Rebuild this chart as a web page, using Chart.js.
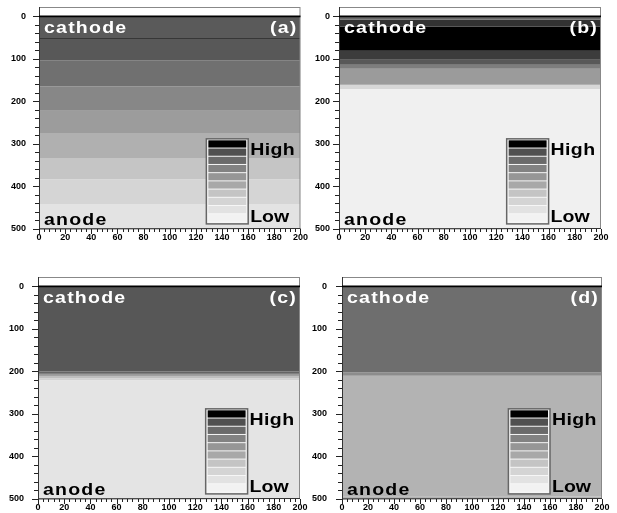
<!DOCTYPE html>
<html>
<head>
<meta charset="utf-8">
<script src="https://cdn.jsdelivr.net/npm/chart.js@4.4.0/dist/chart.umd.min.js"></script>
<style>
  html, body { margin: 0; padding: 0; background: #fff; }
  #wrap { position: relative; width: 617px; height: 513px; }
  .pane { position: absolute; }
</style>
</head>
<body>
<div id="wrap">
  <div class="pane" style="left:0;top:0;width:308px;height:256px"><canvas id="pa"></canvas></div>
  <div class="pane" style="left:308px;top:0;width:309px;height:256px"><canvas id="pb"></canvas></div>
  <div class="pane" style="left:0;top:256px;width:308px;height:257px"><canvas id="pc"></canvas></div>
  <div class="pane" style="left:308px;top:256px;width:309px;height:257px"><canvas id="pd"></canvas></div>
</div>
<script>
// DONNÉES : profondeurs des bandes (bords) et niveau de gris de chaque bande
const depthA = [0, 51, 53, 103, 165, 222, 274, 333, 383, 441, 500];
const shadeA = [90, 55, 88, 112, 135, 156, 176, 197, 213, 227];

const depthB = [0, 8, 24, 81, 102, 114, 123, 161, 171, 500];
const shadeB = [105, 50, 0, 60, 88, 125, 155, 215, 240];

const depthC = [0, 200, 204, 208, 212, 216, 221, 500];
const shadeC = [87, 100, 128, 160, 190, 210, 228];

const depthD = [0, 202, 210, 494, 500];
const shadeD = [110, 140, 179, 179];
// bande claire en bas de (d), seulement de x=0 à x=160
const stripD = { x: [0, 160], y: [494, 500], shade: 205 };

// échelle High -> Low
const legendShades = [0, 80, 106, 130, 150, 168, 196, 212, 226, 242];
const legendX = [128, 160];
const legendY = [288, 488];

// graduations
const xTickValues = [0, 20, 40, 60, 80, 100, 120, 140, 160, 180, 200];
const yTickValues = [0, 100, 200, 300, 400, 500];
const xRange = [0, 200];
const yRange = [-22, 500];   // axe y inversé, un peu de marge au-dessus de 0
const panelTags = ["(a)", "(b)", "(c)", "(d)"];

const gris = (g) => `rgb(${g},${g},${g})`;
const tickFont = { family: "'Liberation Sans', Arial, sans-serif", size: 9, weight: "bold" };

// une bande = segment horizontal rempli jusqu'à la profondeur suivante
function bandes(depth, shade) {
  return shade.map((g, i) => ({
    data: [{ x: xRange[0], y: depth[i] }, { x: xRange[1], y: depth[i] }],
    fill: { value: depth[i + 1] },
    backgroundColor: gris(g),
    borderWidth: 0,
    pointRadius: 0,
  }));
}

// texte un peu étiré comme l'original
function texte(ctx, str, x, y, color, align, size, spacing) {
  ctx.save();
  ctx.font = `bold ${size}px 'Liberation Sans', Arial, sans-serif`;
  ctx.letterSpacing = spacing + "px";
  ctx.fillStyle = color;
  ctx.textBaseline = "alphabetic";
  const sx = 1.22;
  const w = ctx.measureText(str).width * sx;
  const x0 = align === "right" ? x - w : x;
  ctx.translate(x0, y);
  ctx.scale(sx, 1);
  ctx.fillText(str, 0, 0);
  ctx.restore();
}

const decor = {
  id: "decor",
  afterDatasetsDraw(chart, args, opts) {
    const { ctx, chartArea: a, scales: { x, y } } = chart;
    const y0 = y.getPixelForValue(0);

    // cadre
    ctx.save();
    ctx.strokeStyle = "#888";
    ctx.lineWidth = 1;
    ctx.strokeRect(a.left + 0.5, a.top + 0.5, a.width - 1, a.height - 1);
    ctx.strokeStyle = "#333";
    ctx.beginPath();
    ctx.moveTo(a.left + 0.5, a.top);
    ctx.lineTo(a.left + 0.5, a.bottom);
    ctx.lineTo(a.right, a.bottom - 0.5);
    ctx.stroke();

    // ligne noire à y = 0
    ctx.strokeStyle = "#000";
    ctx.lineWidth = 1.6;
    ctx.beginPath();
    ctx.moveTo(a.left, y0);
    ctx.lineTo(a.right, y0);
    ctx.stroke();

    // graduations (principales + secondaires)
    ctx.lineWidth = 1;
    ctx.strokeStyle = "#222";
    ctx.beginPath();
    for (let v = 0; v <= 500; v += 20) {
      const py = Math.round(y.getPixelForValue(v)) + 0.5;
      ctx.moveTo(a.left - (v % 100 === 0 ? 6 : 4), py);
      ctx.lineTo(a.left, py);
    }
    for (let v = 0; v <= 200; v += 4) {
      const px = Math.round(x.getPixelForValue(v)) + 0.5;
      ctx.moveTo(px, a.bottom);
      ctx.lineTo(px, a.bottom + (v % 20 === 0 ? 5 : 3));
    }
    ctx.stroke();

    // échelle High / Low
    const lx1 = x.getPixelForValue(legendX[0]);
    const lx2 = x.getPixelForValue(legendX[1]);
    const ly1 = y.getPixelForValue(legendY[0]);
    const ly2 = y.getPixelForValue(legendY[1]);
    ctx.fillStyle = "#f6f6f6";
    ctx.fillRect(lx1, ly1, lx2 - lx1, ly2 - ly1);
    const h = (ly2 - ly1 - 3) / legendShades.length;
    legendShades.forEach((g, i) => {
      ctx.fillStyle = gris(g);
      ctx.fillRect(lx1 + 2, ly1 + 1.5 + i * h, lx2 - lx1 - 4, h - 1);
    });
    ctx.strokeStyle = "#666";
    ctx.lineWidth = 1.5;
    ctx.strokeRect(lx1, ly1, lx2 - lx1, ly2 - ly1);
    ctx.restore();

    // étiquettes
    texte(ctx, "cathode", a.left + 5, y0 + 16.5, "#fff", "left", 16, 1);
    texte(ctx, opts.tag, a.right - 3, y0 + 16.5, "#fff", "right", 16, 1);
    texte(ctx, "anode", a.left + 5, a.bottom - 4, "#000", "left", 16, 1);
    texte(ctx, "High", lx2 + 2, ly1 + 16, "#000", "left", 16, 0.3);
    texte(ctx, "Low", lx2 + 2, ly2 - 2, "#000", "left", 16, 0);
  },
};

const panneaux = [
  { id: "pa", depth: depthA, shade: shadeA, yW: 39, padT: 7, padR: 7, xH: 27, labPad: 13 },
  { id: "pb", depth: depthB, shade: shadeB, yW: 31, padT: 7, padR: 16, xH: 27, labPad: 9 },
  { id: "pc", depth: depthC, shade: shadeC, yW: 38, padT: 21, padR: 8, xH: 14, labPad: 14 },
  { id: "pd", depth: depthD, shade: shadeD, yW: 34, padT: 21, padR: 15, xH: 14, labPad: 15 },
];

panneaux.forEach((p, i) => {
  const datasets = bandes(p.depth, p.shade);
  if (p.id === "pd") {
    datasets.push({
      data: [{ x: stripD.x[0], y: stripD.y[0] }, { x: stripD.x[1], y: stripD.y[0] }],
      fill: { value: stripD.y[1] },
      backgroundColor: gris(stripD.shade),
      borderWidth: 0,
      pointRadius: 0,
    });
  }

  new Chart(document.getElementById(p.id), {
    type: "line",
    data: { datasets },
    options: {
      responsive: true,
      maintainAspectRatio: false,
      animation: false,
      events: [],
      layout: { padding: { top: p.padT, right: p.padR, left: 0, bottom: 0 } },
      plugins: {
        legend: { display: false },
        tooltip: { enabled: false },
        decor: { tag: panelTags[i] },
      },
      scales: {
        x: {
          type: "linear",
          min: xRange[0],
          max: xRange[1],
          grid: { display: false, drawTicks: true, tickLength: 3 },
          border: { display: false },
          ticks: { padding: 0, color: "#000", font: tickFont, maxRotation: 0, autoSkip: false },
          afterBuildTicks(s) { s.ticks = xTickValues.map((v) => ({ value: v })); },
          afterFit(s) { s.height = p.xH; },
        },
        y: {
          type: "linear",
          reverse: true,
          min: yRange[0],
          max: yRange[1],
          // la longueur de graduation sert d'écart entre étiquette et axe
          grid: { display: false, drawTicks: true, tickLength: p.labPad },
          border: { display: false },
          ticks: { padding: 0, color: "#000", font: tickFont, autoSkip: false },
          afterBuildTicks(s) { s.ticks = yTickValues.map((v) => ({ value: v })); },
          afterFit(s) { s.width = p.yW; },
        },
      },
    },
    plugins: [decor],
  });
});
</script>
</body>
</html>
